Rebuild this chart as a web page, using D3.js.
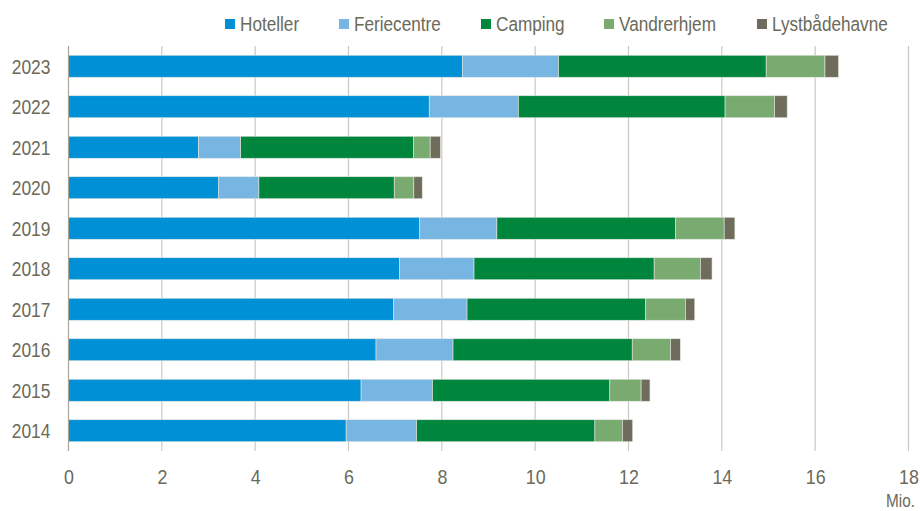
<!DOCTYPE html>
<html>
<head>
<meta charset="utf-8">
<script src="https://cdn.jsdelivr.net/npm/d3@7"></script>
<style>
  body { margin: 0; background: #fff; }
  svg text { font-family: "Liberation Sans", Arial, sans-serif; fill: #6b6a5a; }
</style>
</head>
<body>
<script>
// overnatninger fordelt paa type, mio.
const years = ["2023", "2022", "2021", "2020", "2019", "2018", "2017", "2016", "2015", "2014"];
const seriesNames = ["Hoteller", "Feriecentre", "Camping", "Vandrerhjem", "Lystbådehavne"];
const hoteller      = [8.44, 7.73, 2.79, 3.22, 7.52, 7.09, 6.96, 6.59, 6.27, 5.95];
const feriecentre   = [2.06, 1.91, 0.90, 0.86, 1.66, 1.60, 1.58, 1.65, 1.53, 1.51];
const camping       = [4.45, 4.43, 3.70, 2.90, 3.83, 3.86, 3.83, 3.84, 3.80, 3.82];
const vandrerhjem   = [1.26, 1.06, 0.36, 0.42, 1.04, 0.99, 0.85, 0.82, 0.67, 0.59];
const lystbaadehavne = [0.29, 0.27, 0.22, 0.18, 0.23, 0.25, 0.20, 0.21, 0.19, 0.22];
const xTicks = [0, 2, 4, 6, 8, 10, 12, 14, 16, 18];

const colors = ["#0090d6", "#77b5e3", "#00853d", "#79aa70", "#6e6d5c"];

var w = 920;
var h = 511;
var plotLeft = 68.5;
var plotRight = 908.5;
var plotTop = 46;
var plotBottom = 451;
// the original uses a narrow font, so squeeze the text a bit
var squeeze = "scale(0.85,1)";

// build rows for the stack
var rows = years.map(function(y, i) {
  return {year: y, Hoteller: hoteller[i], Feriecentre: feriecentre[i],
          Camping: camping[i], Vandrerhjem: vandrerhjem[i],
          "Lystbådehavne": lystbaadehavne[i]};
});
var stacked = d3.stack().keys(seriesNames)(rows);

var xScale = d3.scaleLinear()
               .domain([0, 18])
               .range([plotLeft, plotRight]);
var yScale = d3.scaleBand()
               .domain(years)
               .range([plotTop, plotBottom])
               .paddingInner(0.457)
               .paddingOuter(0.2285);

var svg = d3.select("body")
            .append("svg")
            .attr("width", w)
            .attr("height", h);

// gridlines
svg.append("g")
   .selectAll("line")
   .data(xTicks.slice(1))
   .enter()
   .append("line")
   .attr("x1", function(d) { return xScale(d); })
   .attr("x2", function(d) { return xScale(d); })
   .attr("y1", plotTop)
   .attr("y2", plotBottom)
   .attr("stroke", "#cbc9bf")
   .attr("stroke-width", 1.2);

// bars
svg.append("g")
   .selectAll("g")
   .data(stacked)
   .enter()
   .append("g")
   .attr("fill", function(d, i) { return colors[i]; })
   .selectAll("rect")
   .data(function(d) { return d; })
   .enter()
   .append("rect")
   .attr("x", function(d) { return xScale(d[0]); })
   .attr("width", function(d) { return xScale(d[1]) - xScale(d[0]); })
   .attr("y", function(d) { return yScale(d.data.year); })
   .attr("height", yScale.bandwidth())
   .attr("stroke", "#e4e6e0")
   .attr("stroke-width", 0.6);

// left axis line
svg.append("line")
   .attr("x1", plotLeft)
   .attr("x2", plotLeft)
   .attr("y1", plotTop)
   .attr("y2", plotBottom)
   .attr("stroke", "#a8a696")
   .attr("stroke-width", 1.2);

// y labels
var yAxis = svg.append("g")
   .attr("transform", "translate(" + (plotLeft - 18) + ",0)")
   .call(d3.axisLeft(yScale).tickSize(0).tickPadding(0));
yAxis.select(".domain").remove();
yAxis.selectAll("text")
     .style("font-size", "20.5px")
     .attr("dy", "0.36em")
     .attr("transform", squeeze);

// x labels
var xAxis = svg.append("g")
   .attr("transform", "translate(0," + (plotBottom + 18) + ")")
   .call(d3.axisBottom(xScale).tickValues(xTicks).tickSize(0).tickPadding(0));
xAxis.select(".domain").remove();
xAxis.selectAll("text")
     .style("font-size", "21px")
     .attr("dy", "0.72em")
     .attr("transform", squeeze);

// unit label, bottom right
svg.append("g")
   .attr("transform", "translate(886,507)")
   .append("text")
   .attr("transform", squeeze)
   .style("font-size", "18px")
   .text("Mio.");

// legend
var legendX = [225, 339, 481, 604, 757];
var legend = svg.append("g")
   .selectAll("g")
   .data(seriesNames)
   .enter()
   .append("g")
   .attr("transform", function(d, i) { return "translate(" + legendX[i] + ",19)"; });
legend.append("rect")
      .attr("width", 10)
      .attr("height", 10)
      .attr("fill", function(d, i) { return colors[i]; });
legend.append("g")
      .attr("transform", "translate(15,12)")
      .append("text")
      .attr("transform", "scale(0.88,1)")
      .style("font-size", "19.5px")
      .text(function(d) { return d; });
</script>
</body>
</html>
